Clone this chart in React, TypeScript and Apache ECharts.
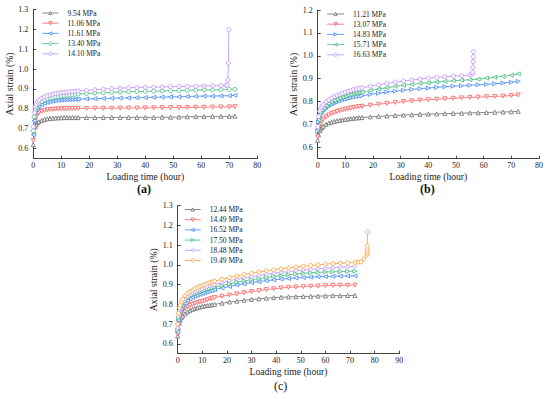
import React, { useEffect, useRef } from 'react';
import * as echarts from 'echarts';

const FONT = '"Liberation Serif", "Times New Roman", serif';

// ---------- Panel (a) ----------
const timeA = [0, 0.3, 0.7, 1, 1.5, 2, 3, 4, 5, 6, 7, 8, 9, 10, 11, 12, 13, 14, 15, 16, 19, 22, 25, 28, 31, 34, 37, 40, 43, 46, 49, 52, 55, 58, 61, 64, 67, 70, 72];
const a954 = [0.62, 0.68, 0.71, 0.72, 0.73, 0.735, 0.742, 0.747, 0.75, 0.752, 0.753, 0.754, 0.755, 0.755, 0.756, 0.756, 0.756, 0.756, 0.756, 0.756, 0.756, 0.756, 0.756, 0.757, 0.757, 0.757, 0.757, 0.757, 0.757, 0.758, 0.758, 0.759, 0.76, 0.761, 0.761, 0.762, 0.762, 0.762, 0.763];
const a1106 = [0.64, 0.7, 0.745, 0.76, 0.772, 0.78, 0.787, 0.792, 0.795, 0.797, 0.798, 0.799, 0.8, 0.8, 0.801, 0.801, 0.801, 0.802, 0.802, 0.802, 0.802, 0.803, 0.803, 0.803, 0.804, 0.804, 0.804, 0.805, 0.805, 0.806, 0.806, 0.807, 0.807, 0.808, 0.808, 0.809, 0.809, 0.81, 0.811];
const a1161 = [0.67, 0.74, 0.78, 0.795, 0.805, 0.812, 0.822, 0.828, 0.833, 0.836, 0.839, 0.841, 0.843, 0.844, 0.845, 0.846, 0.847, 0.847, 0.848, 0.848, 0.85, 0.851, 0.852, 0.853, 0.854, 0.855, 0.856, 0.857, 0.858, 0.859, 0.86, 0.861, 0.862, 0.863, 0.864, 0.864, 0.865, 0.866, 0.868];
const a1340 = [0.69, 0.76, 0.795, 0.808, 0.82, 0.828, 0.838, 0.845, 0.85, 0.854, 0.857, 0.86, 0.863, 0.865, 0.867, 0.869, 0.87, 0.872, 0.873, 0.874, 0.877, 0.879, 0.881, 0.883, 0.885, 0.886, 0.887, 0.888, 0.889, 0.89, 0.891, 0.892, 0.893, 0.894, 0.895, 0.895, 0.896, 0.897, 0.898];
const a1410 = [0.71, 0.78, 0.81, 0.822, 0.835, 0.843, 0.853, 0.86, 0.866, 0.87, 0.874, 0.877, 0.879, 0.881, 0.883, 0.884, 0.886, 0.887, 0.888, 0.89, 0.893, 0.896, 0.899, 0.902, 0.904, 0.906, 0.907, 0.908, 0.909, 0.91, 0.911, 0.912, 0.913, 0.914, 0.915, 0.916, 0.917];
const a1410FailTime = [68.8, 69.3, 69.5, 69.7, 69.8];
const a1410Fail = [0.918, 0.92, 0.945, 1.03, 1.197];

// ---------- Panel (b) ----------
const timeB = [0, 0.3, 0.7, 1, 1.5, 2, 3, 4, 5, 6, 7, 8, 9, 10, 11, 12, 13, 14, 15, 16, 19, 22, 25, 28, 31, 34, 37, 40, 43, 46, 49, 52, 55, 58, 61, 64, 67, 70, 72.5];
const b1121 = [0.63, 0.655, 0.672, 0.68, 0.687, 0.692, 0.7, 0.706, 0.71, 0.713, 0.716, 0.718, 0.72, 0.722, 0.724, 0.725, 0.727, 0.728, 0.729, 0.73, 0.733, 0.735, 0.737, 0.739, 0.741, 0.742, 0.744, 0.745, 0.746, 0.747, 0.748, 0.749, 0.75, 0.751, 0.752, 0.753, 0.754, 0.755, 0.757];
const b1307 = [0.645, 0.675, 0.695, 0.705, 0.715, 0.722, 0.733, 0.741, 0.747, 0.752, 0.756, 0.76, 0.763, 0.766, 0.769, 0.772, 0.774, 0.776, 0.778, 0.779, 0.784, 0.788, 0.792, 0.796, 0.8, 0.803, 0.806, 0.808, 0.81, 0.812, 0.814, 0.816, 0.818, 0.819, 0.821, 0.822, 0.824, 0.826, 0.829];
const b1483 = [0.67, 0.71, 0.73, 0.74, 0.75, 0.757, 0.768, 0.778, 0.786, 0.792, 0.797, 0.802, 0.806, 0.81, 0.813, 0.816, 0.819, 0.821, 0.823, 0.825, 0.831, 0.836, 0.841, 0.845, 0.849, 0.853, 0.856, 0.859, 0.862, 0.865, 0.867, 0.869, 0.871, 0.873, 0.875, 0.878, 0.881, 0.884, 0.888];
const b1571 = [0.68, 0.72, 0.742, 0.752, 0.763, 0.771, 0.782, 0.791, 0.799, 0.805, 0.81, 0.815, 0.82, 0.824, 0.828, 0.831, 0.834, 0.837, 0.839, 0.841, 0.848, 0.854, 0.86, 0.866, 0.871, 0.875, 0.879, 0.882, 0.885, 0.888, 0.891, 0.893, 0.895, 0.898, 0.902, 0.906, 0.91, 0.915, 0.921];
const b1663 = [0.69, 0.735, 0.758, 0.768, 0.778, 0.786, 0.798, 0.807, 0.815, 0.821, 0.827, 0.832, 0.837, 0.841, 0.845, 0.848, 0.852, 0.855, 0.857, 0.86, 0.867, 0.873, 0.879, 0.885, 0.89, 0.894, 0.898, 0.902, 0.905, 0.908, 0.911, 0.913, 0.916];
const b1663FailTime = [55.9, 56.0, 56.1, 56.2, 56.25, 56.3];
const b1663Fail = [0.92, 0.928, 0.95, 0.974, 0.996, 1.018];

// ---------- Panel (c) ----------
const timeC = [0, 0.3, 0.7, 1, 1.5, 2, 3, 4, 5, 6, 7, 8, 9, 10, 11, 12, 13, 14, 15, 18, 21, 24, 27, 30, 33, 36, 39, 42, 45, 48, 51, 54, 57, 60, 63, 66, 69, 72];
const c1244 = [0.64, 0.68, 0.705, 0.72, 0.732, 0.741, 0.752, 0.762, 0.77, 0.775, 0.779, 0.783, 0.786, 0.79, 0.792, 0.794, 0.796, 0.798, 0.8, 0.806, 0.812, 0.816, 0.821, 0.825, 0.828, 0.831, 0.834, 0.836, 0.838, 0.839, 0.84, 0.841, 0.842, 0.843, 0.844, 0.844, 0.845, 0.845];
const c1449 = [0.65, 0.7, 0.727, 0.74, 0.755, 0.765, 0.778, 0.788, 0.795, 0.8, 0.805, 0.809, 0.812, 0.815, 0.819, 0.823, 0.827, 0.831, 0.835, 0.841, 0.847, 0.853, 0.859, 0.865, 0.87, 0.875, 0.879, 0.883, 0.886, 0.888, 0.89, 0.892, 0.893, 0.895, 0.896, 0.897, 0.897, 0.898];
const c1652 = [0.66, 0.72, 0.748, 0.76, 0.777, 0.789, 0.805, 0.818, 0.828, 0.836, 0.842, 0.847, 0.851, 0.855, 0.859, 0.863, 0.867, 0.871, 0.875, 0.883, 0.891, 0.898, 0.904, 0.91, 0.915, 0.92, 0.924, 0.928, 0.931, 0.934, 0.936, 0.938, 0.94, 0.941, 0.942, 0.943, 0.944, 0.945];
const c1750 = [0.67, 0.73, 0.758, 0.77, 0.788, 0.8, 0.816, 0.83, 0.84, 0.847, 0.853, 0.858, 0.863, 0.868, 0.872, 0.876, 0.88, 0.884, 0.888, 0.896, 0.904, 0.912, 0.919, 0.925, 0.931, 0.937, 0.942, 0.946, 0.95, 0.954, 0.957, 0.96, 0.962, 0.964, 0.965, 0.966, 0.967, 0.968];
const c1848 = [0.68, 0.74, 0.768, 0.78, 0.798, 0.81, 0.826, 0.84, 0.85, 0.858, 0.865, 0.87, 0.875, 0.88, 0.884, 0.889, 0.893, 0.897, 0.9, 0.91, 0.92, 0.928, 0.935, 0.94, 0.946, 0.952, 0.957, 0.962, 0.966, 0.97, 0.974, 0.977, 0.98, 0.983, 0.986, 0.988, 0.99, 0.993];
const c1949 = [0.7, 0.755, 0.783, 0.795, 0.813, 0.826, 0.843, 0.856, 0.865, 0.873, 0.88, 0.886, 0.891, 0.895, 0.9, 0.905, 0.91, 0.914, 0.918, 0.927, 0.936, 0.944, 0.951, 0.958, 0.964, 0.97, 0.975, 0.98, 0.985, 0.989, 0.993, 0.997, 1.0, 1.004, 1.007, 1.009, 1.011, 1.013];
const c1949FailTime = [73.3, 74.4, 75.6, 76.8, 76.9, 76.9, 77.0, 77.0, 77.1];
const c1949Fail = [1.014, 1.015, 1.03, 1.05, 1.06, 1.07, 1.08, 1.095, 1.168];

const yTicksA = [0.6, 0.7, 0.8, 0.9, 1.0, 1.1, 1.2, 1.3];
const yTicksB = [0.6, 0.7, 0.8, 0.9, 1.0, 1.1, 1.2];
const yTicksC = [0.6, 0.7, 0.8, 0.9, 1.0, 1.1, 1.2, 1.3];

const GRAY = '#6b6b6b';
const RED = '#ff5b5b';
const BLUE = '#3f86f2';
const GREEN = '#3dba79';
const PURPLE = '#b98cff';
const ORANGE = '#ff9a2e';

function pairs(times: number[], vals: number[], extraT: number[] = [], extraV: number[] = []) {
  const out: number[][] = vals.map((v, i) => [times[i], v]);
  extraT.forEach((t, i) => out.push([t, extraV[i]]));
  return out;
}

function mk(name: string, idx: number, data: number[][], color: string, symbol: string, rotate = 0) {
  return {
    type: 'line',
    name,
    xAxisIndex: idx,
    yAxisIndex: idx,
    data,
    color,
    symbol,
    symbolSize: 4,
    symbolRotate: rotate,
    showSymbol: true,
    lineStyle: { width: 0.8, color },
    itemStyle: { color: '#ffffff', borderColor: color, borderWidth: 0.8 },
    emphasis: { disabled: true },
  };
}

function xAxis(idx: number, max: number) {
  return {
    type: 'value',
    gridIndex: idx,
    min: 0,
    max,
    interval: 10,
    name: 'Loading time (hour)',
    nameLocation: 'middle',
    nameGap: 13,
    nameTextStyle: { fontFamily: FONT, fontSize: 9.6, color: '#222' },
    axisLine: { show: true, onZero: false, lineStyle: { color: '#444', width: 1 } },
    axisTick: { show: true, inside: true, length: 3, lineStyle: { color: '#444' } },
    axisLabel: { fontFamily: FONT, fontSize: 8, color: '#222', margin: 3 },
    splitLine: { show: false },
  };
}

function yAxis(idx: number, max: number, ticks: number[], gap: number) {
  return {
    type: 'value',
    gridIndex: idx,
    min: 0.55,
    max,
    name: 'Axial strain (%)',
    nameLocation: 'middle',
    nameRotate: 90,
    nameGap: gap,
    nameTextStyle: { fontFamily: FONT, fontSize: 9.8, color: '#222' },
    axisLine: { show: true, onZero: false, lineStyle: { color: '#444', width: 1 } },
    axisTick: { show: true, inside: true, length: 3, customValues: ticks, lineStyle: { color: '#444' } },
    axisLabel: {
      fontFamily: FONT, fontSize: 8, color: '#222', margin: 5, customValues: ticks,
      formatter: (v: number) => v.toFixed(1),
    },
    splitLine: { show: false },
  };
}

function legend(names: string[], left: number, top: number, itemWidth: number) {
  return {
    data: names,
    orient: 'vertical',
    left,
    top,
    itemWidth,
    itemHeight: 4,
    itemGap: 2.2,
    padding: 0,
    selectedMode: false,
    itemStyle: { color: '#ffffff', borderColor: 'inherit', borderWidth: 0.8 },
    lineStyle: { width: 0.8 },
    textStyle: { fontFamily: FONT, fontSize: 7.5, color: '#222', lineHeight: 8, padding: [0, 0, 0, 4] },
  };
}

export default function App() {
  const ref = useRef<HTMLDivElement>(null);
  useEffect(() => {
    if (!ref.current) return;
    const chart = echarts.init(ref.current, undefined, { renderer: 'svg' });
    const option = {
      animation: false,
      backgroundColor: '#ffffff',
      grid: [
        { left: 33.3, top: 9.3, width: 224, height: 149.3 },
        { left: 317.7, top: 10, width: 221.3, height: 148.7 },
        { left: 177.7, top: 205.7, width: 221.6, height: 148 },
      ],
      xAxis: [xAxis(0, 80), xAxis(1, 80), xAxis(2, 90)],
      yAxis: [yAxis(0, 1.3, yTicksA, 13), yAxis(1, 1.2, yTicksB, 18), yAxis(2, 1.3, yTicksC, 16)],
      legend: [
        legend(['9.54 MPa', '11.06 MPa', '11.61 MPa', '13.40 MPa', '14.10 MPa'], 42, 9, 16),
        legend(['11.21 MPa', '13.07 MPa', '14.83 MPa', '15.71 MPa', '16.63 MPa'], 326.7, 10, 17),
        legend(['12.44 MPa', '14.49 MPa', '16.52 MPa', '17.50 MPa', '18.48 MPa', '19.49 MPa'], 184.3, 205.5, 16),
      ],
      graphic: [
        { type: 'text', left: 137, top: 183, style: { text: '(a)', font: `bold 12px ${FONT}`, fill: '#111' } },
        { type: 'text', left: 420, top: 183, style: { text: '(b)', font: `bold 12px ${FONT}`, fill: '#111' } },
        { type: 'text', left: 274, top: 380, style: { text: '(c)', font: `12px ${FONT}`, fill: '#111' } },
      ],
      series: [
        mk('9.54 MPa', 0, pairs(timeA, a954), GRAY, 'triangle'),
        mk('11.06 MPa', 0, pairs(timeA, a1106), RED, 'triangle', 180),
        mk('11.61 MPa', 0, pairs(timeA, a1161), BLUE, 'triangle', 90),
        mk('13.40 MPa', 0, pairs(timeA, a1340), GREEN, 'circle'),
        mk('14.10 MPa', 0, pairs(timeA, a1410, a1410FailTime, a1410Fail), PURPLE, 'circle'),
        mk('11.21 MPa', 1, pairs(timeB, b1121), GRAY, 'triangle'),
        mk('13.07 MPa', 1, pairs(timeB, b1307), RED, 'triangle', 180),
        mk('14.83 MPa', 1, pairs(timeB, b1483), BLUE, 'triangle', -90),
        mk('15.71 MPa', 1, pairs(timeB, b1571), GREEN, 'triangle', 90),
        mk('16.63 MPa', 1, pairs(timeB, b1663, b1663FailTime, b1663Fail), PURPLE, 'circle'),
        mk('12.44 MPa', 2, pairs(timeC, c1244), GRAY, 'triangle'),
        mk('14.49 MPa', 2, pairs(timeC, c1449), RED, 'triangle', 180),
        mk('16.52 MPa', 2, pairs(timeC, c1652), BLUE, 'triangle', 90),
        mk('17.50 MPa', 2, pairs(timeC, c1750), GREEN, 'triangle', -90),
        mk('18.48 MPa', 2, pairs(timeC, c1848), PURPLE, 'diamond'),
        mk('19.49 MPa', 2, pairs(timeC, c1949, c1949FailTime, c1949Fail), ORANGE, 'circle'),
      ],
    };
    chart.setOption(option as any);
    return () => chart.dispose();
  }, []);
  return <div ref={ref} style={{ position: 'fixed', left: 0, top: 0, width: 550, height: 399 }} />;
}
